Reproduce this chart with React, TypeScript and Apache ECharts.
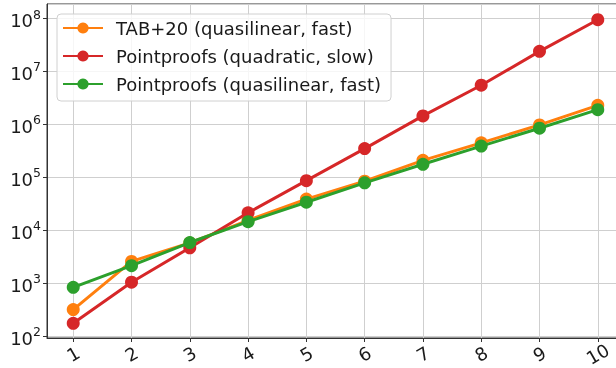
import React, { useEffect, useRef } from "react";
import * as echarts from "echarts";

const xValues = [1, 2, 3, 4, 5, 6, 7, 8, 9, 10];
const seriesNames = [
  "TAB+20 (quasilinear, fast)",
  "Pointproofs (quadratic, slow)",
  "Pointproofs (quasilinear, fast)",
];
const tab20 = [320, 2600, 5800, 15500, 39000, 85000, 210000, 450000, 980000, 2300000];
const ppQuadratic = [176, 1050, 4700, 21500, 87000, 350000, 1450000, 5500000, 24000000, 95000000];
const ppQuasilinear = [840, 2160, 5900, 14600, 34000, 79000, 177000, 390000, 850000, 1900000];
const colors = ["#ff7f0e", "#d62728", "#2ca02c"];

const FONT = "DejaVu Sans";

export default function App() {
  const ref = useRef<HTMLDivElement>(null);
  useEffect(() => {
    if (!ref.current) return;
    const chart = echarts.init(ref.current, null, { renderer: "svg" });
    const all = [tab20, ppQuadratic, ppQuasilinear];
    chart.setOption({
      animation: false,
      grid: {
        left: 47,
        right: -8,
        top: 4,
        bottom: 30,
        outerBoundsMode: "none",
        containLabel: false,
        show: true,
        borderColor: "#333",
        borderWidth: 1,
        backgroundColor: "transparent",
      },
      legend: {
        orient: "vertical",
        left: 57,
        top: 14,
        padding: [5, 10, 8, 5],
        itemGap: 10,
        itemWidth: 40,
        itemHeight: 14,
        backgroundColor: "rgba(255,255,255,0.8)",
        borderColor: "#d0d0d0",
        borderWidth: 1,
        borderRadius: 4,
        textStyle: {
          fontFamily: FONT,
          fontSize: 18,
          color: "#1a1a1a",
          padding: [0, 0, 0, 8],
        },
        data: seriesNames,
      },
      xAxis: {
        type: "value",
        min: 0.55,
        max: 10.45,
        axisLine: { show: true, lineStyle: { color: "#333", width: 1 } },
        axisTick: {
          show: true,
          length: 4,
          lineStyle: { color: "#333" },
          customValues: xValues,
        },
        axisLabel: {
          customValues: xValues,
          rotate: 30,
          fontFamily: FONT,
          fontSize: 18,
          color: "#1a1a1a",
          margin: 16,
          align: "center",
          verticalAlign: "middle",
          hideOverlap: false,
        },
        splitLine: { show: true, lineStyle: { color: "#cfcfcf", width: 1 } },
      },
      yAxis: {
        type: "log",
        logBase: 10,
        min: 93,
        max: 1.88e8,
        axisLine: { show: true, lineStyle: { color: "#333", width: 1 } },
        axisTick: { show: true, length: 4, lineStyle: { color: "#333" } },
        splitLine: { show: true, lineStyle: { color: "#cfcfcf", width: 1 } },
        axisLabel: {
          margin: 6,
          showMinLabel: false,
          showMaxLabel: false,
          formatter: (v: number) => {
            const e = Math.log10(v);
            if (Math.abs(e - Math.round(e)) > 1e-6) return "";
            return "{b|10}{s|" + Math.round(e) + "}";
          },
          rich: {
            b: { fontFamily: FONT, fontSize: 18, color: "#1a1a1a", lineHeight: 22, verticalAlign: "bottom" },
            s: { fontFamily: FONT, fontSize: 12.5, color: "#1a1a1a", lineHeight: 14, verticalAlign: "top" },
          },
        },
      },
      series: all.map((vals, i) => ({
        name: seriesNames[i],
        type: "line",
        data: vals.map((v, j) => [xValues[j], v]),
        color: colors[i],
        lineStyle: { width: 3, color: colors[i] },
        itemStyle: { color: colors[i] },
        symbol: "circle",
        symbolSize: 13,
        z: 2 + i,
      })),
    });
    return () => chart.dispose();
  }, []);
  return (
    <div
      ref={ref}
      style={{ position: "fixed", left: 0, top: 0, width: 616, height: 368 }}
    />
  );
}
